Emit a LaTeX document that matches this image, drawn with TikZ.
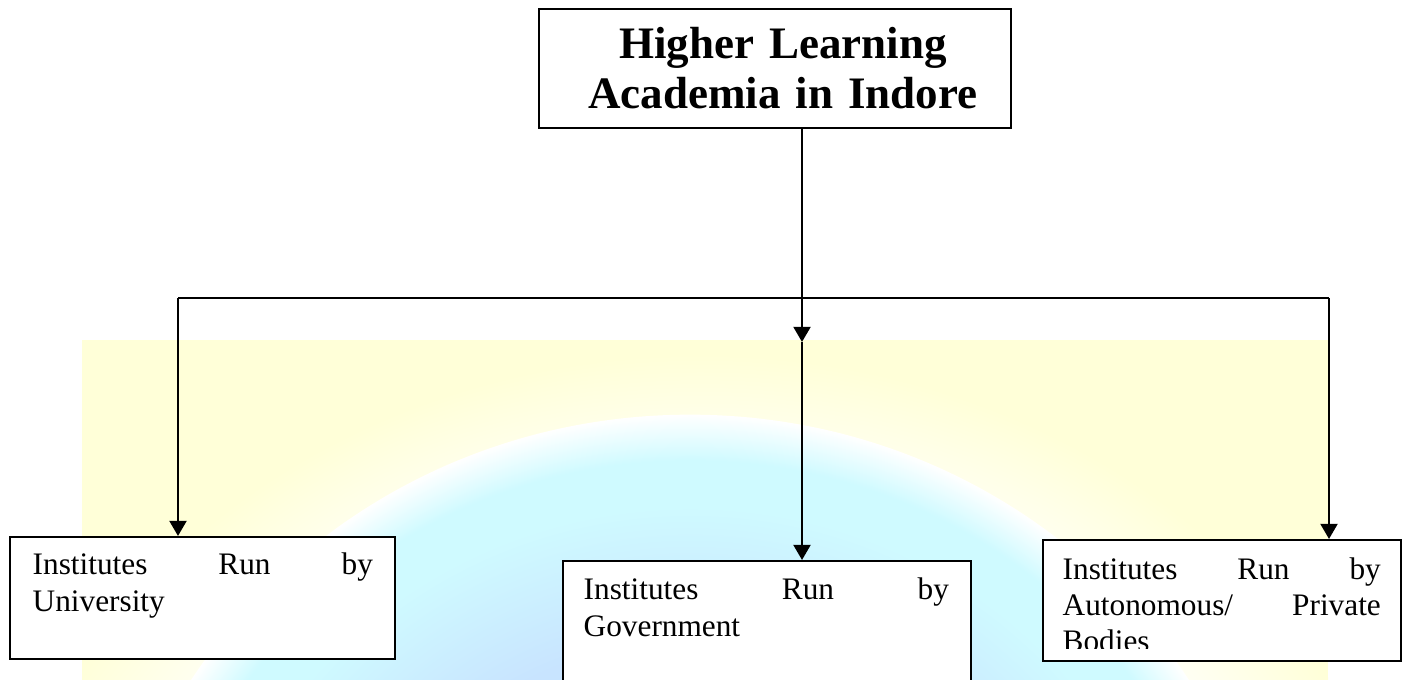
\documentclass[tikz,border=0pt]{standalone}
\usepackage{fontspec}
\setmainfont{Liberation Serif}
\usetikzlibrary{arrows.meta}
\definecolor{paleyellow}{HTML}{FFFFD8}
\definecolor{globecyan}{HTML}{CFFAFF}
\definecolor{globeblue}{HTML}{C8E4FF}
% soft white glow and globe, fading out towards their rims
% (a shaded path's bounding box spans -25bp..25bp of the shading)
\pgfdeclareradialshading{glow}{\pgfpoint{0bp}{0bp}}{%
  color(0bp)=(white); color(19bp)=(white); color(25bp)=(paleyellow); color(50bp)=(paleyellow)}
\pgfdeclareradialshading{globe}{\pgfpoint{0bp}{0bp}}{%
  color(0bp)=(globeblue); color(15bp)=(globeblue); color(21bp)=(globecyan);
  color(23bp)=(globecyan); color(25bp)=(white); color(50bp)=(white)}
\begin{document}
\begin{tikzpicture}[x=0.01cm,y=-0.01cm,
  box/.style={draw=black, line width=0.6pt, fill=white, rectangle, inner sep=0pt, anchor=north west},
  conn/.style={line width=0.7pt},
  arr/.style={conn, -{Triangle[width=4.8pt,length=4.3pt]}},
  bodytext/.style={anchor=base west, inner sep=0pt, font=\fontsize{8.9}{10.5}\selectfont},
  titletext/.style={anchor=base, inner sep=0pt, text width=5cm, align=center,
    font=\bfseries\fontsize{12.8}{14.2}\selectfont},
]
\clip (0,0) rectangle (1406,680);
\fill[white] (0,0) rectangle (1406,680);

% faint watermark behind the chart: yellow panel and a globe
\begin{scope}
  \clip (82,340) rectangle (1328,680);
  \fill[paleyellow] (82,340) rectangle (1328,680);
  \begin{scope}
    \clip (700,985) ellipse [x radius=7.2cm, y radius=6.3cm];
    \shade[shading=glow] (700,985) ellipse [x radius=7.2cm, y radius=6.3cm];
  \end{scope}
  \begin{scope}
    \clip (690,985) ellipse [x radius=5.9cm, y radius=5.7cm];
    \shade[shading=globe] (690,985) ellipse [x radius=5.9cm, y radius=5.7cm];
  \end{scope}
\end{scope}

% boxes
\node[box, minimum width=4.72cm, minimum height=1.19cm] (top) at (538,8) {};
\node[box, minimum width=3.85cm, minimum height=1.22cm] (univ) at (9,536) {};
\node[box, minimum width=4.08cm, minimum height=1.45cm] (gov) at (562,560) {};
\node[box, minimum width=3.58cm, minimum height=1.21cm] (auto) at (1042,539) {};

% box texts
\node[titletext] (title) at (783,59) {Higher Learning\\Academia in Indore};
\node[bodytext, text width=3.40cm] (univtxt) at (32,575) {Institutes\hfill Run\hfill by\\University};
\node[bodytext, text width=3.65cm] (govtxt) at (583,600) {Institutes\hfill Run\hfill by\\Government};
\begin{scope}
  \clip (auto.north west) rectangle (1400,649);
  \node[bodytext, text width=3.18cm, font=\fontsize{8.9}{10.1}\selectfont] (autotxt) at (1062,580)
    {Institutes\hfill Run\hfill by\\Autonomous/\hfill Private\\Bodies};
\end{scope}

% connectors
\coordinate (jl) at (178,298);
\coordinate (jr) at (1329,298);
\coordinate (cm) at (802,342);
\draw[conn] (jl) -- (jr);
\draw[arr] (cm |- top.south) -- (cm);
\draw[arr] (cm) -- (cm |- gov.north);
\draw[arr] (jl) -- (jl |- univ.north);
\draw[arr] (jr) -- (jr |- auto.north);
\end{tikzpicture}
\end{document}
